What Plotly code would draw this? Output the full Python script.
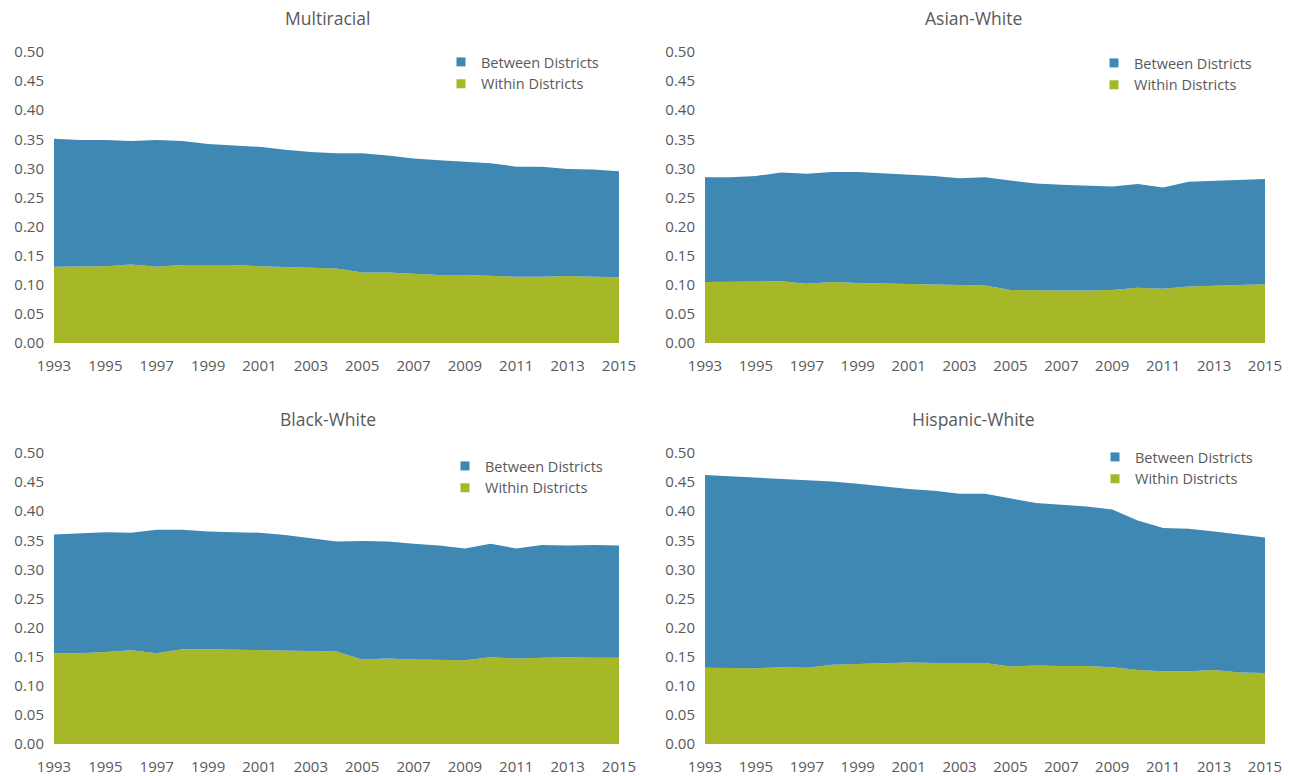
import plotly.graph_objects as go

years = list(range(1993, 2016))

# Segregation components by pair of groups: within districts (bottom) and between districts (stacked on top)
multiracial_within = [0.131, 0.131, 0.132, 0.135, 0.131, 0.134, 0.134, 0.134, 0.132, 0.131, 0.130, 0.128,
                      0.121, 0.121, 0.119, 0.117, 0.117, 0.115, 0.114, 0.114, 0.115, 0.114, 0.113]
multiracial_between = [0.220, 0.218, 0.217, 0.212, 0.218, 0.213, 0.208, 0.205, 0.205, 0.201, 0.198, 0.198,
                       0.205, 0.201, 0.198, 0.197, 0.194, 0.194, 0.189, 0.189, 0.184, 0.184, 0.182]

asian_within = [0.105, 0.105, 0.105, 0.106, 0.102, 0.105, 0.103, 0.102, 0.102, 0.101, 0.099, 0.099,
                0.091, 0.090, 0.090, 0.090, 0.091, 0.095, 0.093, 0.097, 0.098, 0.099, 0.101]
asian_between = [0.180, 0.180, 0.182, 0.187, 0.189, 0.189, 0.191, 0.190, 0.187, 0.186, 0.184, 0.186,
                 0.188, 0.184, 0.182, 0.180, 0.178, 0.178, 0.174, 0.180, 0.181, 0.181, 0.181]

black_within = [0.156, 0.156, 0.158, 0.161, 0.156, 0.163, 0.163, 0.162, 0.162, 0.160, 0.159, 0.159,
                0.145, 0.147, 0.145, 0.145, 0.144, 0.149, 0.147, 0.148, 0.149, 0.148, 0.148]
black_between = [0.204, 0.206, 0.206, 0.202, 0.212, 0.205, 0.202, 0.202, 0.201, 0.199, 0.195, 0.189,
                 0.204, 0.201, 0.199, 0.196, 0.192, 0.195, 0.189, 0.194, 0.192, 0.194, 0.193]

hispanic_within = [0.131, 0.130, 0.130, 0.132, 0.131, 0.136, 0.137, 0.139, 0.140, 0.139, 0.139, 0.139,
                   0.133, 0.135, 0.134, 0.134, 0.132, 0.127, 0.125, 0.125, 0.127, 0.123, 0.122]
hispanic_between = [0.331, 0.330, 0.328, 0.324, 0.323, 0.315, 0.310, 0.303, 0.298, 0.296, 0.291, 0.291,
                    0.289, 0.279, 0.277, 0.274, 0.271, 0.257, 0.246, 0.245, 0.238, 0.237, 0.233]

panel_titles = ["Multiracial", "Asian-White", "Black-White", "Hispanic-White"]
series_names = ["Within Districts", "Between Districts"]
panels = [
    (multiracial_within, multiracial_between),
    (asian_within, asian_between),
    (black_within, black_between),
    (hispanic_within, hispanic_between),
]

BLUE = "#3F88B3"
GREEN = "#A6B828"
TEXT = "#595959"
FONT = "Open Sans"
W, H = 1289, 776

# Panel geometry in pixels: (left, right, top of 0.50, bottom at 0.00, title centre x, title centre y)
boxes = [
    (54, 619, 52, 343, 327, 18),
    (705, 1265, 52, 343, 973, 18),
    (54, 619, 453, 744, 328, 419),
    (705, 1265, 453, 744, 973, 419),
]
# legend anchors (left, top) in pixels
legend_pos = [(441, 46), (1094, 47), (445, 450), (1095, 441)]

fig = go.Figure()
for i, ((within, between), title) in enumerate(zip(panels, panel_titles)):
    n = "" if i == 0 else str(i + 1)
    leg = "legend" + n
    for name, vals, col in ((series_names[0], within, GREEN), (series_names[1], between, BLUE)):
        fig.add_trace(go.Scatter(
            x=years, y=vals, name=name, mode="lines",
            line=dict(width=0, color=col), fillcolor=col,
            stackgroup="s%d" % i, xaxis="x" + n, yaxis="y" + n,
            showlegend=False, hoverinfo="x+y+name",
        ))
    # square legend keys
    for name, col in ((series_names[0], GREEN), (series_names[1], BLUE)):
        fig.add_trace(go.Scatter(
            x=[None], y=[None], name=name, mode="markers",
            marker=dict(symbol="square", size=9, color=col),
            xaxis="x" + n, yaxis="y" + n, legend=leg, showlegend=True,
        ))
    l, r, t, b, tx, ty = boxes[i]
    fig.update_layout({
        "xaxis" + n: dict(
            domain=[l / W, r / W], range=[1993, 2015], anchor="y" + n, automargin=False,
            tickmode="array", tickvals=years[::2], ticktext=[str(y) for y in years[::2]],
            showgrid=False, zeroline=False, showline=False,
            ticks="outside", ticklen=9, tickcolor="rgba(0,0,0,0)",
            tickfont=dict(family=FONT, size=15, color=TEXT),
        ),
        "yaxis" + n: dict(
            domain=[1 - b / H, 1 - t / H], range=[0, 0.5], anchor="x" + n, automargin=False,
            dtick=0.05, tickformat=".2f", showgrid=False, zeroline=False, showline=False,
            ticks="outside", ticklen=6, tickcolor="rgba(0,0,0,0)",
            tickfont=dict(family=FONT, size=15, color=TEXT),
        ),
        leg: dict(
            x=legend_pos[i][0] / W, y=1 - legend_pos[i][1] / H,
            xanchor="left", yanchor="top", traceorder="reversed",
            bgcolor="rgba(0,0,0,0)", itemwidth=30, tracegroupgap=0,
            font=dict(family=FONT, size=14.5, color=TEXT),
        ),
    })
    fig.add_annotation(
        text=title, x=tx / W, y=1 - ty / H, xref="paper", yref="paper",
        xanchor="center", yanchor="middle", showarrow=False,
        font=dict(family=FONT, size=17.5, color=TEXT),
    )

fig.update_layout(
    width=W, height=H, margin=dict(l=0, r=0, t=0, b=0),
    paper_bgcolor="white", plot_bgcolor="white", showlegend=True,
)

fig.write_html("out.html")
